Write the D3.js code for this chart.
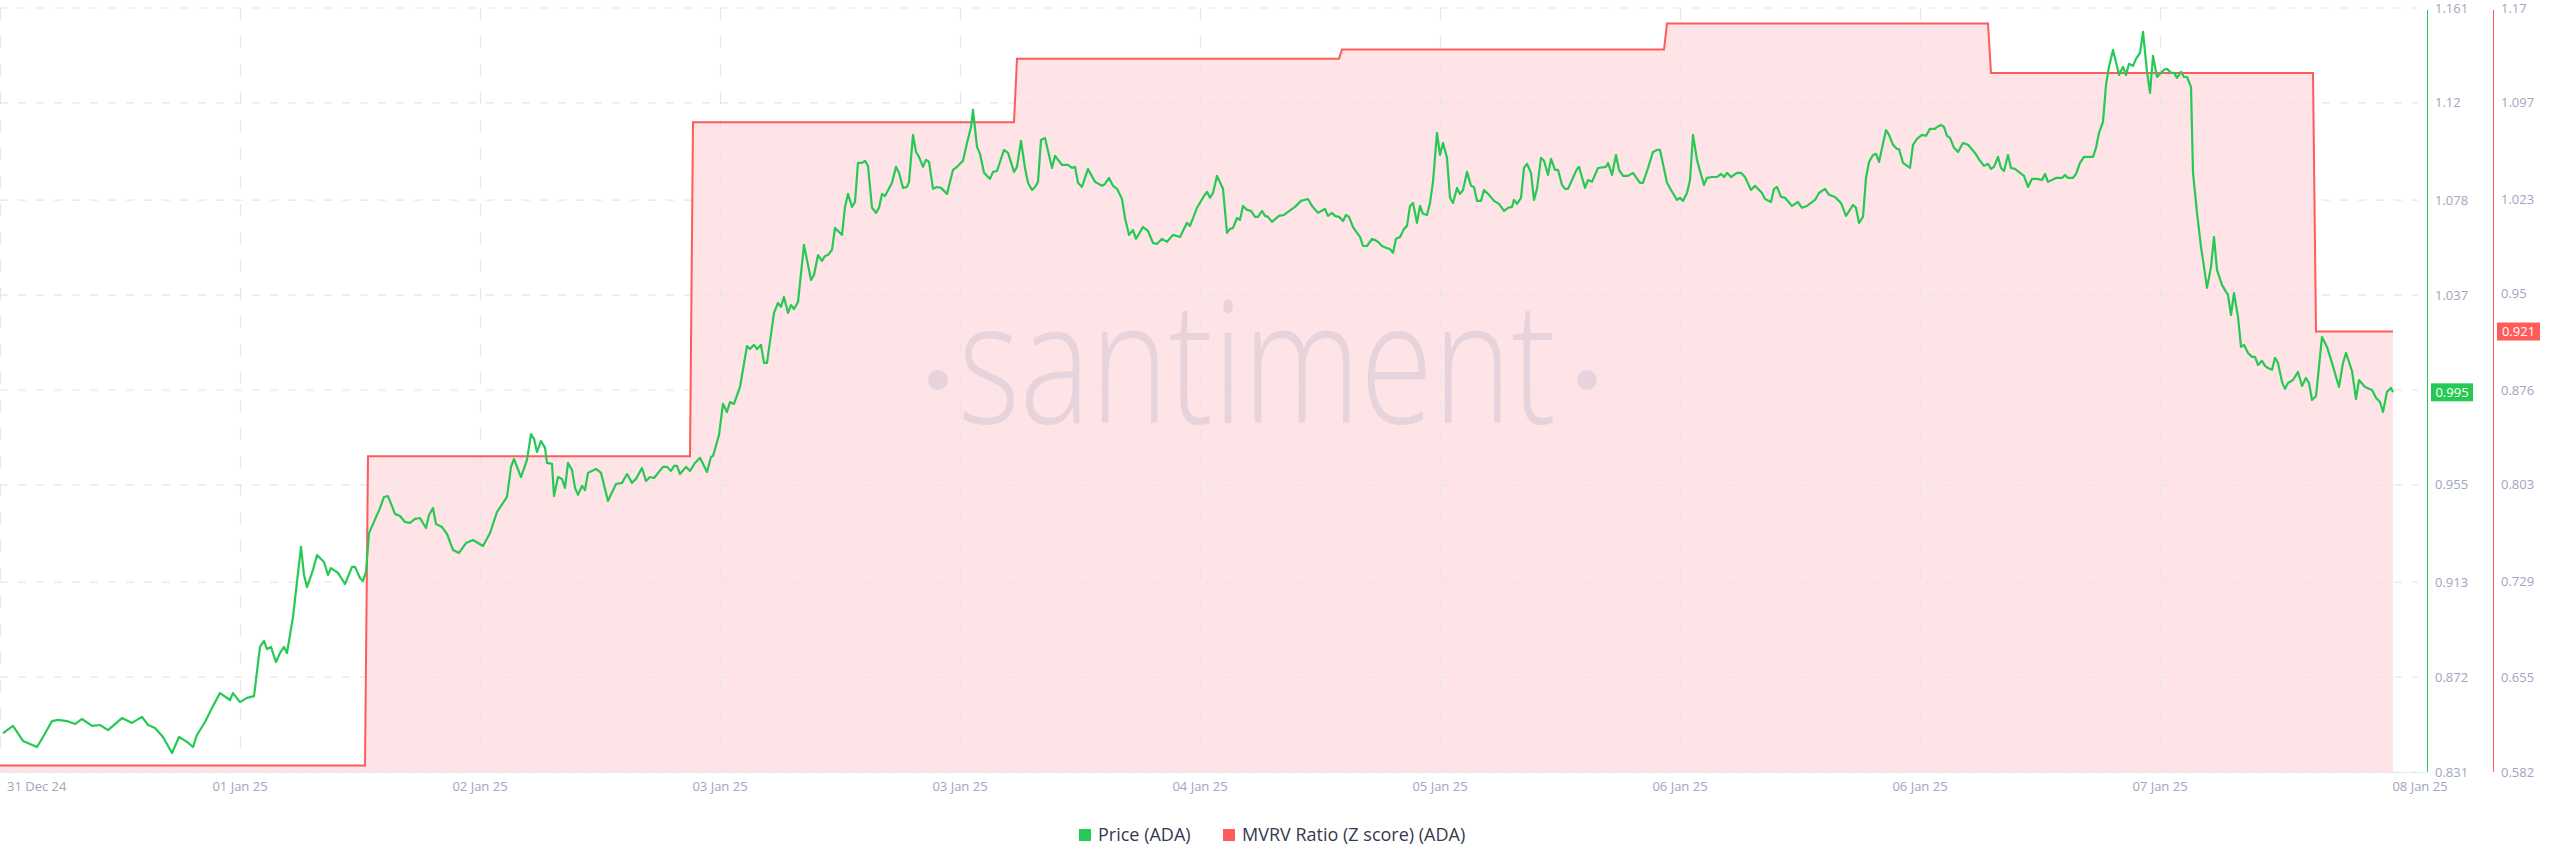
<!DOCTYPE html>
<html><head><meta charset="utf-8">
<script src="https://cdn.jsdelivr.net/npm/d3@7/dist/d3.min.js"></script>
<style>html,body{margin:0;padding:0;background:#fff;overflow:hidden;} svg{display:block;font-family:"Open Sans",Lato,sans-serif;}</style>
</head><body><svg id="chart" width="2560" height="867"></svg>
<script>
// ---- data ----
const xTickLabels = ["31 Dec 24","01 Jan 25","02 Jan 25","03 Jan 25","03 Jan 25","04 Jan 25","05 Jan 25","06 Jan 25","06 Jan 25","07 Jan 25","08 Jan 25"];
const priceTicks = [0.831,0.872,0.913,0.955,0.996,1.037,1.078,1.12,1.161];
const mvrvTicks = [0.582,0.655,0.729,0.803,0.876,0.95,1.023,1.097,1.17];
const seriesNames = ["Price (ADA)","MVRV Ratio (Z score) (ADA)"];
// [hours from start, price]
const priceData = [
[0.24,0.8478],[1.04,0.8509],[1.84,0.8444],[2.4,0.8431],[2.96,0.8418],[3.44,0.8461],[4.16,0.8530],[4.64,0.8535],[5.36,0.8530],[6,0.8517],[6.56,0.8539],[7.36,0.8509],[8,0.8513],[8.64,0.8491],[9.76,0.8543],[10.56,0.8522],[11.36,0.8548],[11.84,0.8513],[12.4,0.8500],[13.04,0.8461],[13.76,0.8392],[14.32,0.8461],[14.96,0.8440],[15.44,0.8418],[15.76,0.8470],[16.4,0.8526],[16.96,0.8587],[17.6,0.8651],[18.4,0.8621],[18.64,0.8651],[19.2,0.8612],[19.76,0.8630],[20.32,0.8638],[20.8,0.8850],[21.12,0.8876],[21.36,0.8841],[21.68,0.8850],[22.08,0.8785],[22.4,0.8824],[22.72,0.8850],[22.96,0.8824],[23.44,0.8980],[24.08,0.9282],[24.32,0.9161],[24.56,0.9109],[25.04,0.9183],[25.36,0.9247],[25.92,0.9217],[26.24,0.9161],[26.48,0.9191],[27.04,0.9170],[27.6,0.9122],[28.16,0.9196],[28.4,0.9196],[28.8,0.9148],[29.04,0.9135],[29.28,0.9174],[29.52,0.9342],
[30.4,0.9450],[30.72,0.9498],[31.04,0.9502],[31.6,0.9425],[32,0.9416],[32.4,0.9390],[32.8,0.9386],[33.2,0.9403],[33.6,0.9407],[34.08,0.9364],[34.32,0.9420],[34.64,0.9450],[34.88,0.9381],[35.36,0.9368],[35.76,0.9338],[36.24,0.9269],[36.72,0.9256],[37.28,0.9299],[37.84,0.9312],[38.24,0.9299],[38.64,0.9286],[39.2,0.9342],[39.76,0.9433],[40.56,0.9498],[40.88,0.9628],[41.12,0.9662],[41.36,0.9628],[41.68,0.9584],[42.16,0.9658],[42.48,0.9770],[42.72,0.9749],[42.96,0.9692],[43.28,0.9740],[43.6,0.9710],[43.76,0.9645],[44.16,0.9641],[44.32,0.9502],[44.64,0.9584],[44.96,0.9576],[45.2,0.9537],[45.44,0.9645],[45.76,0.9615],[46,0.9537],[46.24,0.9507],[46.56,0.9546],[46.8,0.9528],[47.04,0.9602],[47.68,0.9619],[48.08,0.9602],[48.64,0.9481],[49.28,0.9554],[49.76,0.9559],[50.16,0.9597],[50.56,0.9559],[50.88,0.9576],[51.36,0.9623],[51.68,0.9567],[52,0.9584],[52.32,0.9580],[53.04,0.9628],[53.36,0.9628],[53.68,0.9610],[53.92,0.9632],[54.16,0.9632],[54.4,0.9597],[54.88,0.9628],[55.2,0.9610],[55.6,0.9645],[56,0.9667],[56.56,0.9606],[56.88,0.9671],[57.04,0.9675],[57.52,0.9766],[57.84,0.9900],[58.16,0.9865],[58.4,0.9908],[58.72,0.9900],[59.2,0.9973],[59.76,1.0150],[60,1.0137],[60.32,1.0155],[60.56,1.0137],[60.88,1.0155],[61.12,1.0077],[61.36,1.0077],[61.92,1.0293],[62.24,1.0336],[62.48,1.0319],[62.72,1.0362],[63.04,1.0293],[63.28,1.0327],[63.52,1.0310],[63.84,1.0340],[64.32,1.0587],[64.88,1.0435],[65.12,1.0457],[65.44,1.0543],[65.76,1.0518],[66,1.0539],[66.24,1.0543],[66.56,1.0565],[66.8,1.0660],[67.36,1.0630],[67.6,1.0751],[67.84,1.0807],[68.16,1.0751],[68.4,1.0772],[68.64,1.0941],[68.96,1.0941],[69.2,1.0950],[69.44,1.0928],[69.76,1.0747],[70.08,1.0725],[70.32,1.0747],[70.56,1.0807],[70.8,1.0798],[71.36,1.0855],[71.68,1.0924],[71.92,1.0898],[72.24,1.0833],[72.56,1.0837],[72.72,1.0859],[73.04,1.1062],[73.28,1.0988],[73.52,1.0967],[73.84,1.0924],[74.08,1.0954],[74.32,1.0945],[74.64,1.0829],[74.96,1.0837],[75.28,1.0833],[75.52,1.0820],[75.76,1.0807],[76.24,1.0911],[76.56,1.0924],[77.04,1.0950],[77.36,1.1027],[77.68,1.1096],[77.84,1.1170],[78.16,1.1010],[78.4,1.0980],[78.72,1.0898],[79.2,1.0872],[79.44,1.0902],[79.76,1.0906],[80.32,1.0997],[80.64,1.0984],[81.12,1.0902],[81.36,1.0924],[81.68,1.1036],[82,1.0919],[82.24,1.0855],[82.56,1.0824],[82.8,1.0837],[83.04,1.0859],[83.28,1.1040],[83.6,1.1049],[84.16,1.0919],[84.4,1.0971],[84.96,1.0932],[85.44,1.0932],[85.76,1.0919],[86,1.0924],[86.24,1.0855],[86.56,1.0837],[87.04,1.0915],[87.6,1.0859],[88.16,1.0842],[88.4,1.0850],[88.72,1.0876],[89.04,1.0842],[89.36,1.0829],[89.76,1.0785],[90,1.0703],[90.32,1.0630],[90.64,1.0651],[90.88,1.0613],[91.44,1.0664],[91.84,1.0647],[92.24,1.0595],[92.56,1.0591],[92.96,1.0613],[93.36,1.0600],[93.84,1.0630],[94.4,1.0621],[94.96,1.0682],[95.2,1.0669],[95.76,1.0747],[96.32,1.0798],[96.56,1.0816],[96.8,1.0790],[97.04,1.0811],[97.36,1.0885],[97.84,1.0829],[98.16,1.0639],[98.4,1.0656],[98.64,1.0660],[98.96,1.0703],[99.2,1.0695],[99.44,1.0755],[99.76,1.0738],[100.08,1.0734],[100.4,1.0708],[100.64,1.0708],[100.96,1.0734],[101.2,1.0712],[101.44,1.0708],[101.76,1.0686],[102.32,1.0712],[102.72,1.0716],[103.04,1.0729],[103.6,1.0751],[104.08,1.0777],[104.64,1.0785],[104.96,1.0755],[105.44,1.0725],[106,1.0742],[106.24,1.0712],[106.56,1.0725],[106.8,1.0712],[107.12,1.0708],[107.44,1.0690],[107.68,1.0716],[107.92,1.0708],[108.24,1.0664],[108.56,1.0639],[108.8,1.0621],[109.04,1.0582],[109.36,1.0582],[109.76,1.0613],[110,1.0608],[110.24,1.0600],[110.56,1.0582],[110.88,1.0574],[111.2,1.0569],[111.44,1.0552],[111.68,1.0613],[112,1.0621],[112.32,1.0656],[112.56,1.0669],[112.8,1.0755],[113.04,1.0768],[113.36,1.0682],[113.6,1.0755],[113.84,1.0721],[114.16,1.0716],[114.4,1.0768],[114.64,1.0859],[114.96,1.1071],[115.2,1.0975],[115.44,1.1027],[115.76,1.0963],[116,1.0790],[116.24,1.0768],[116.56,1.0833],[116.8,1.0807],[117.04,1.0824],[117.36,1.0902],[117.68,1.0842],[117.92,1.0837],[118.16,1.0777],[118.48,1.0777],[118.72,1.0824],[119.12,1.0803],[119.52,1.0777],[119.92,1.0764],[120.32,1.0734],[120.64,1.0747],[120.96,1.0751],[121.12,1.0781],[121.36,1.0764],[121.68,1.0790],[121.92,1.0919],[122.16,1.0937],[122.48,1.0898],[122.72,1.0781],[122.96,1.0829],[123.28,1.0963],[123.52,1.0950],[123.84,1.0889],[124.08,1.0958],[124.4,1.0911],[124.64,1.0911],[124.96,1.0846],[125.2,1.0829],[125.44,1.0829],[126.16,1.0915],[126.32,1.0924],[126.8,1.0833],[127.04,1.0867],[127.36,1.0859],[127.84,1.0919],[128.48,1.0924],[128.64,1.0941],[128.96,1.0889],[129.28,1.0975],[129.52,1.0911],[129.84,1.0885],[130.24,1.0885],[130.64,1.0898],[131.2,1.0855],[131.44,1.0855],[131.84,1.0919],[132.24,1.0988],[132.56,1.0997],[132.8,1.0997],[133.36,1.0855],[133.68,1.0824],[134.16,1.0781],[134.4,1.0790],[134.64,1.0777],[134.96,1.0811],[135.2,1.0867],[135.44,1.1062],[135.76,1.0954],[136,1.0906],[136.32,1.0846],[136.56,1.0876],[136.96,1.0880],[137.36,1.0880],[137.68,1.0893],[137.92,1.0880],[138.16,1.0898],[138.48,1.0880],[138.96,1.0898],[139.28,1.0898],[139.6,1.0880],[140.08,1.0824],[140.4,1.0842],[140.96,1.0811],[141.2,1.0785],[141.68,1.0772],[141.92,1.0829],[142.16,1.0837],[142.48,1.0794],[142.8,1.0790],[143.36,1.0755],[143.84,1.0772],[144.16,1.0747],[144.56,1.0755],[145.2,1.0781],[145.52,1.0811],[146,1.0829],[146.32,1.0803],[146.8,1.0794],[147.28,1.0768],[147.68,1.0712],[148.24,1.0759],[148.48,1.0747],[148.72,1.0682],[149.04,1.0708],[149.28,1.0876],[149.52,1.0945],[149.84,1.0975],[150.08,1.0980],[150.32,1.0945],[150.88,1.1083],[151.12,1.1062],[151.44,1.1019],[151.76,1.1001],[151.92,1.1001],[152.24,1.0941],[152.8,1.0919],[153.04,1.1019],[153.36,1.1045],[153.76,1.1062],[154.08,1.1058],[154.4,1.1088],[154.8,1.1088],[154.96,1.1096],[155.28,1.1105],[155.52,1.1096],[155.76,1.1058],[156,1.1049],[156.32,1.1006],[156.64,1.0988],[157.04,1.1027],[157.44,1.1019],[158,1.0984],[158.4,1.0950],[158.72,1.0928],[159.04,1.0937],[159.28,1.0915],[159.52,1.0924],[159.84,1.0967],[160.08,1.0919],[160.32,1.0906],[160.64,1.0975],[160.88,1.0919],[161.2,1.0915],[161.6,1.0898],[161.92,1.0885],[162.24,1.0837],[162.56,1.0872],[162.96,1.0872],[163.36,1.0867],[163.6,1.0893],[163.84,1.0859],[164.48,1.0876],[164.96,1.0876],[165.2,1.0889],[165.44,1.0876],[165.84,1.0876],[166.08,1.0893],[166.4,1.0941],[166.72,1.0967],[167.04,1.0967],[167.44,1.0967],[167.68,1.1006],[167.92,1.1071],[168.24,1.1118],[168.48,1.1278],[168.72,1.1356],[169.04,1.1429],[169.28,1.1377],[169.52,1.1321],[169.84,1.1356],[170.08,1.1321],[170.32,1.1369],[170.64,1.1360],[170.88,1.1390],[171.2,1.1416],[171.44,1.1507],[171.76,1.1334],[172,1.1243],[172.24,1.1403],[172.56,1.1312],[172.88,1.1330],[173.12,1.1343],[173.36,1.1347],[173.68,1.1330],[173.92,1.1330],[174.16,1.1308],[174.48,1.1334],[174.72,1.1312],[174.96,1.1312],[175.28,1.1269],[175.44,1.0898],[175.76,1.0725],[176.08,1.0578],[176.32,1.0492],[176.56,1.0401],[176.88,1.0492],[177.12,1.0621],[177.36,1.0479],[177.76,1.0414],[178.08,1.0384],[178.24,1.0371],[178.48,1.0284],[178.72,1.0379],[179.04,1.0276],[179.28,1.0146],[179.52,1.0155],[179.84,1.0120],[180.16,1.0103],[180.4,1.0103],[180.64,1.0068],[180.96,1.0086],[181.2,1.0064],[181.44,1.0055],[181.76,1.0047],[182,1.0099],[182.24,1.0077],[182.56,0.9995],[182.8,0.9965],[183.04,0.9990],[183.44,1.0003],[183.84,1.0038],[184.16,0.9977],[184.48,1.0012],[184.72,0.9990],[184.96,0.9917],[185.28,0.9934],[185.76,1.0189],[186.16,1.0146],[186.56,1.0077],[187.12,0.9973],[187.44,1.0077],[187.68,1.0120],[188.16,1.0042],[188.48,0.9921],[188.72,1.0003],[189.2,0.9973],[189.76,0.9960],[190.08,0.9926],[190.4,0.9908],[190.64,0.9865],[190.96,0.9952],[191.28,0.9969],[191.44,0.9950]
];
// [hours from start, MVRV]
const mvrvData = [
[0,0.587],[29.2,0.587],[29.44,0.825],[55.2,0.825],[55.44,1.082],[81.12,1.082],[81.36,1.131],[107.12,1.131],[107.36,1.138],[133.12,1.138],[133.36,1.158],[159.04,1.158],[159.28,1.120],[185.04,1.120],[185.28,0.921],[191.44,0.921]
];
const totalHours = 192;

// ---- colours ----
const GREEN = "#26c953", RED = "#ff5b5b", FILL = "#fee4e6";
const GRID = "#e3e6ef", AXISTXT = "#9ea6c0";

const svg = d3.select("#chart");
const plotL = 0, plotR = 2400, plotT = 8, plotB = 772;

const x = d3.scaleLinear().domain([0,totalHours]).range([plotL,plotR]);
const yP = d3.scaleLinear().domain([priceTicks[0],priceTicks[priceTicks.length-1]]).range([plotB,plotT]);
const yM = d3.scaleLinear().domain([mvrvTicks[0],mvrvTicks[mvrvTicks.length-1]]).range([plotB,plotT]);

// MVRV area
const area = d3.area().x(d=>x(d[0])).y0(plotB).y1(d=>yM(d[1]));
svg.append("path").datum(mvrvData).attr("d",area).attr("fill",FILL);

// grid
const xTickVals = xTickLabels.map((_,i)=>i*totalHours/(xTickLabels.length-1));
svg.append("g").selectAll("line").data(priceTicks).join("line")
  .attr("x1",plotL).attr("x2",2418).attr("y1",d=>yP(d)).attr("y2",d=>yP(d))
  .attr("stroke",GRID).attr("stroke-width",1.2).attr("stroke-dasharray","8,10");
svg.append("g").selectAll("line").data(xTickVals.slice(0,-1)).join("line")
  .attr("x1",d=>x(d)+0.5).attr("x2",d=>x(d)+0.5).attr("y1",plotT).attr("y2",plotB)
  .attr("stroke",GRID).attr("stroke-width",1.2).attr("stroke-dasharray","12,16");
svg.append("line").attr("x1",plotL).attr("x2",2427).attr("y1",plotB+0.5).attr("y2",plotB+0.5)
  .attr("stroke","#e6e8f0").attr("stroke-width",1);

// watermark
const wm = svg.append("g").attr("fill","#e6d3dc");
wm.append("text").attr("x",958).attr("y",423).attr("font-family","'Open Sans',sans-serif")
  .attr("font-weight",300).attr("font-size",170).attr("textLength",598).attr("lengthAdjust","spacingAndGlyphs").text("santiment");
wm.append("circle").attr("cx",938).attr("cy",380).attr("r",10);
wm.append("circle").attr("cx",1587).attr("cy",380).attr("r",10);

// MVRV line
svg.append("path").datum(mvrvData).attr("d",d3.line().x(d=>x(d[0])).y(d=>yM(d[1])))
  .attr("fill","none").attr("stroke",RED).attr("stroke-width",2);
// price line
svg.append("path").datum(priceData).attr("d",d3.line().x(d=>x(d[0])).y(d=>yP(d[1])))
  .attr("fill","none").attr("stroke",GREEN).attr("stroke-width",2.2).attr("stroke-linejoin","round");

// x axis labels
svg.append("g").selectAll("text").data(xTickLabels).join("text")
  .attr("x",(d,i)=> i===0 ? x(xTickVals[i])+7 : x(xTickVals[i]) + (i===xTickLabels.length-1?20:0))
  .attr("y",786).attr("dy","0.35em")
  .attr("text-anchor",(d,i)=> i===0?"start":"middle")
  .attr("font-size",13).attr("fill",AXISTXT).text(d=>d);

// right axes
const axP = 2427, axM = 2493;
svg.append("line").attr("x1",axP+0.5).attr("x2",axP+0.5).attr("y1",10).attr("y2",plotB).attr("stroke",GREEN).attr("stroke-width",1);
svg.append("line").attr("x1",axM+0.5).attr("x2",axM+0.5).attr("y1",10).attr("y2",plotB).attr("stroke",RED).attr("stroke-width",1);
svg.append("g").selectAll("text").data(priceTicks).join("text")
  .attr("x",axP+8).attr("y",d=>yP(d)).attr("dy","0.35em").attr("font-size",13).attr("fill",AXISTXT)
  .text(d=>String(d));
svg.append("g").selectAll("text").data(mvrvTicks).join("text")
  .attr("x",axM+8).attr("y",d=>yM(d)).attr("dy","0.35em").attr("font-size",13).attr("fill",AXISTXT)
  .text(d=>String(d));

// last value badges
function badge(xl, yv, w, col, txt){
  svg.append("rect").attr("x",xl).attr("y",yv-9).attr("width",w).attr("height",18).attr("fill",col);
  svg.append("text").attr("x",xl+w/2).attr("y",yv).attr("dy","0.35em").attr("text-anchor","middle")
    .attr("font-size",13).attr("fill","#fff").text(txt);
}
const lastP = priceData[priceData.length-1][1], lastM = mvrvData[mvrvData.length-1][1];
badge(axP+4, yP(lastP), 42, GREEN, lastP.toFixed(3));
badge(axM+4, yM(lastM), 43, RED, lastM.toFixed(3));

// legend
const lg = svg.append("g");
const legendX = [1079, 1223], legendCol = [GREEN, RED];
seriesNames.forEach((n,i)=>{
  lg.append("rect").attr("x",legendX[i]).attr("y",829).attr("width",12).attr("height",12).attr("fill",legendCol[i]);
  lg.append("text").attr("x",legendX[i]+19).attr("y",835).attr("dy","0.35em").attr("font-size",18).attr("fill","#353a4d").text(n);
});
</script>
</body></html>
